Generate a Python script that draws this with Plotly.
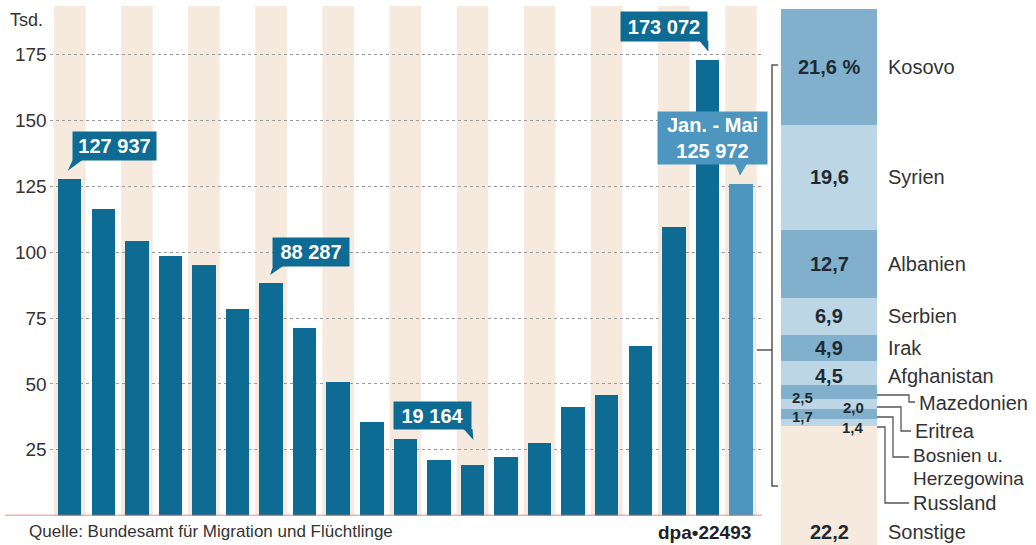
import plotly.graph_objects as go

# ---------------- data ----------------
years = list(range(1995, 2016))
asylum = [127937, 116367, 104353, 98644, 95113, 78564, 88287, 71127, 50563, 35607,
          28914, 21029, 19164, 22085, 27649, 41332, 45741, 64539, 109580, 173072, 125972]
y_ticks = [25, 50, 75, 100, 125, 150, 175]

countries = ["Kosovo", "Syrien", "Albanien", "Serbien", "Irak", "Afghanistan",
             "Mazedonien", "Eritrea", "Bosnien u.|Herzegowina", "Russland", "Sonstige"]
shares = [21.6, 19.6, 12.7, 6.9, 4.9, 4.5, 2.5, 2.0, 1.7, 1.4, 22.2]

labelled_years = [1995, 2001, 2007, 2014, 2015]

# ---------------- layout constants ----------------
W, H = 1036, 545
def px(x):
    return x / W
def py(y):
    return 1 - y / H

PLOT_L, PLOT_R = 49.6, 761.1
X_RANGE = [1994.4, 2015.6]
BASE_Y, TOP_Y = 515.5, 6
Y_PER_UNIT = 2.633
Y_TOP = (BASE_Y - TOP_Y) / Y_PER_UNIT
XS = (PLOT_R - PLOT_L) / (X_RANGE[1] - X_RANGE[0])   # px per year
YS = Y_PER_UNIT                                     # px per thousand

DARK = "#0d6b94"
LIGHT = "#4d96bf"
BEIGE = "#f6eadf"
MED = "#80b0cb"
PALE = "#bcd6e5"
TXT = "#333333"
FONT = "Liberation Sans, Arial, sans-serif"

vals_k = [v / 1000 for v in asylum]

fig = go.Figure()
fig.add_trace(go.Bar(
    x=years, y=vals_k, width=0.7,
    marker=dict(color=[DARK] * (len(years) - 1) + [LIGHT], line=dict(width=0)),
    xaxis="x", yaxis="y", hoverinfo="skip"))

# stacked share column (bottom -> top)
seg_colors = [MED, PALE, MED, PALE, MED, PALE, MED, PALE, MED, PALE, BEIGE]
for name, s, c in reversed(list(zip(countries, shares, seg_colors))):
    fig.add_trace(go.Bar(x=[0], y=[s], width=1, marker=dict(color=c, line=dict(width=0)),
                         xaxis="x2", yaxis="y2", hoverinfo="skip", name=name))

shapes = []
# background stripes behind every other bar
for i, yr in enumerate(years):
    if i % 2 == 0:
        shapes.append(dict(type="rect", xref="x", yref="y domain", x0=yr - 0.47, x1=yr + 0.47,
                           y0=0, y1=1, fillcolor=BEIGE, line=dict(width=0), layer="below"))
# red baseline
shapes.append(dict(type="line", xref="paper", yref="y", x0=px(5), x1=px(762), y0=0, y1=0,
                   line=dict(color="#e06a62", width=1.5), layer="above"))

annotations = []

def fmt(v):
    return f"{v:,}".replace(",", " ")

# callouts: (anchor, xshift, yshift, box width, box height, tail points (dx, dy screen))
callout_style = {
    1995: ("left", 2, 18, 81, 26, [(3, -19), (13, -19), (-2, -8)]),
    2001: ("left", 1, 16, 74, 26, [(2, -17), (12, -17), (-1, -8)]),
    2007: ("right", 0, 35, 75, 25, [(-9, -36), (0, -36), (1, -25)]),
    2014: ("right", 1, 18, 84, 27, [(-8, -19), (1, -19), (1, -8)]),
    2015: ("center", -28.5, 19, 107, 50, [(-6, -20), (6, -20), (-1, -8)]),
}
for yr in labelled_years:
    i = years.index(yr)
    v = vals_k[i]
    anchor, xs, ys, bw, bh, tail = callout_style[yr]
    col = LIGHT if yr == years[-1] else DARK
    text = fmt(asylum[i])
    if yr == years[-1]:
        text = "Jan. - Mai<br>" + text
    annotations.append(dict(
        xref="x", yref="y", x=yr, y=v, xanchor=anchor, yanchor="bottom",
        xshift=xs, yshift=ys, text=f"<b>{text}</b>", showarrow=False,
        bgcolor=col, borderpad=1, width=bw, height=bh, align="center",
        font=dict(family=FONT, size=20, color="white")))
    path = "M " + " L ".join(f"{yr + dx / XS},{v - dy / YS}" for dx, dy in tail) + " Z"
    shapes.append(dict(type="path", xref="x", yref="y", path=path,
                       fillcolor=col, line=dict(width=0), layer="above"))

# y-axis unit
annotations.append(dict(xref="paper", yref="paper", x=px(8), y=py(20), xanchor="left",
                        yanchor="middle", text="Tsd.", showarrow=False,
                        font=dict(family=FONT, size=18, color=TXT)))

# share labels
Y2_PER = (H - 9) / 100.0
def y2px(val):
    return H - val * Y2_PER

cum = 0
seg_bounds = {}
for name, s in reversed(list(zip(countries, shares))):
    seg_bounds[name] = (cum, cum + s)
    cum += s

def dec(s):
    return f"{s:.1f}".replace(".", ",")

def name_label(text, x, y, size=20):
    annotations.append(dict(xref="paper", yref="paper", x=px(x), y=py(y),
                            xanchor="left", yanchor="middle", text=text, showarrow=False,
                            align="left", font=dict(family=FONT, size=size, color=TXT)))

# small segments: (value dx, value dy, name y positions, name x, name font size)
small = {"Mazedonien": (-27, 6, [403], 917, 20), "Eritrea": (24, 3, [431], 913, 20),
         "Bosnien u.|Herzegowina": (-27, 3, [455, 478], 911, 19),
         "Russland": (24, 5, [503], 911, 20)}
for k, (name, s) in enumerate(zip(countries, shares)):
    lo, hi = seg_bounds[name]
    cpx = y2px((lo + hi) / 2)
    vtxt = dec(s) + (" %" if k == 0 else "")
    if name in small:
        dx, dy, nys, nx, nsz = small[name]
        annotations.append(dict(xref="paper", yref="paper", x=px(829 + dx), y=py(cpx + dy),
                                xanchor="center", yanchor="middle", text=f"<b>{vtxt}</b>",
                                showarrow=False, font=dict(family=FONT, size=15, color="#1f2a33")))
        for part, ny in zip(name.split("|"), nys):
            name_label(part, nx, ny, nsz)
    else:
        ly = 532 if name == "Sonstige" else cpx + (3 if name == "Afghanistan" else 0)
        annotations.append(dict(xref="paper", yref="paper", x=px(829), y=py(ly),
                                xanchor="center", yanchor="middle", text=f"<b>{vtxt}</b>",
                                showarrow=False, font=dict(family=FONT, size=20, color="#1f2a33")))
        name_label(name, 886, ly)

# leader lines for the small segments
leaders = [
    [(877, 395), (909, 395), (909, 402), (915, 402)],
    [(877, 407), (901, 407), (901, 431), (911, 431)],
    [(877, 417), (893, 417), (893, 457), (909, 457)],
    [(877, 427), (885, 427), (885, 503), (909, 503)],
]
for pts in leaders:
    path = "M " + " L ".join(f"{px(a)},{py(b)}" for a, b in pts)
    shapes.append(dict(type="path", xref="paper", yref="paper", path=path,
                       line=dict(color="#555555", width=1.3)))

# bracket between the charts
br = [(778, 65), (772, 65), (772, 486), (778, 486)]
shapes.append(dict(type="path", xref="paper", yref="paper",
                   path="M " + " L ".join(f"{px(a)},{py(b)}" for a, b in br),
                   line=dict(color="#555555", width=1.5)))
shapes.append(dict(type="line", xref="paper", yref="paper", x0=px(757), x1=px(772),
                   y0=py(350), y1=py(350), line=dict(color="#555555", width=1.5)))

# footer
annotations.append(dict(xref="paper", yref="paper", x=px(27), y=py(531), xanchor="left",
                        yanchor="middle", text="Quelle: Bundesamt für Migration und Flüchtlinge",
                        showarrow=False, font=dict(family=FONT, size=17, color=TXT)))
annotations.append(dict(xref="paper", yref="paper", x=px(753), y=py(532), xanchor="right",
                        yanchor="middle", text="<b>dpa•22493</b>",
                        showarrow=False, font=dict(family=FONT, size=19, color="#222222")))

fig.update_layout(
    width=W, height=H, margin=dict(l=0, r=0, t=0, b=0),
    paper_bgcolor="white", plot_bgcolor="rgba(0,0,0,0)",
    showlegend=False, barmode="stack",
    font=dict(family=FONT, color=TXT),
    xaxis=dict(domain=[px(PLOT_L), px(PLOT_R)], range=X_RANGE, visible=False,
               showgrid=False, fixedrange=True),
    yaxis=dict(domain=[py(BASE_Y), py(TOP_Y)], range=[0, Y_TOP], tickvals=y_ticks,
               ticktext=[str(t) for t in y_ticks], showgrid=True, gridcolor="#9c9c9c",
               griddash="dot", gridwidth=1, zeroline=False, showline=False, ticks="",
               ticklabelstandoff=2, tickfont=dict(family=FONT, size=19, color=TXT)),
    xaxis2=dict(domain=[px(781), px(877)], range=[-0.5, 0.5], visible=False, anchor="y2"),
    yaxis2=dict(domain=[0, py(9)], range=[0, 100], visible=False, anchor="x2"),
    shapes=shapes, annotations=annotations,
)

fig.write_html("out.html")
